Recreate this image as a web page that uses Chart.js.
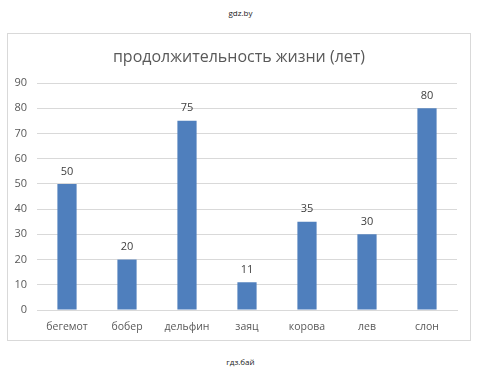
<!DOCTYPE html>
<html>
<head>
<meta charset="utf-8">
<script src="https://cdn.jsdelivr.net/npm/chart.js@4"></script>
<style>
  body { margin: 0; background: #fff; width: 481px; height: 378px; position: relative; font-family: "Open Sans", sans-serif; }
  .mark { position: absolute; left: 0; width: 481px; text-align: center; font-size: 8px; color: #222; }
  #box { position: absolute; left: 7px; top: 33px; width: 462px; height: 306px; border: 1px solid #d9d9d9; }
</style>
</head>
<body>
<div class="mark" style="top:7px">gdz.by</div>
<div id="box"><canvas id="chart" width="462" height="306"></canvas></div>
<div class="mark" style="top:356px">гдз.бай</div>
<script>
// данные диаграммы
const animals = ["бегемот", "бобер", "дельфин", "заяц", "корова", "лев", "слон"];
const years = [50, 20, 75, 11, 35, 30, 80];
const yTicks = [0, 10, 20, 30, 40, 50, 60, 70, 80, 90];

const titleText = "продолжительность жизни (лет)";

// подписи над столбиками и заголовок
const labelsPlugin = {
  id: "labels",
  afterDatasetsDraw(chart) {
    const ctx = chart.ctx;
    ctx.save();
    ctx.font = "11px 'Open Sans'";
    ctx.fillStyle = "#404040";
    ctx.textAlign = "center";
    ctx.textBaseline = "bottom";
    chart.getDatasetMeta(0).data.forEach(function (bar, i) {
      ctx.fillText(String(years[i]), bar.x, bar.y - 7);
    });
    ctx.font = "16px 'Open Sans'";
    ctx.fillStyle = "#595959";
    ctx.textBaseline = "middle";
    ctx.fillText(titleText, chart.width / 2, 23);
    ctx.restore();
  }
};

new Chart(document.getElementById("chart").getContext("2d"), {
  type: "bar",
  data: {
    labels: animals,
    datasets: [{
      data: years,
      backgroundColor: "#4f7fbd",
      categoryPercentage: 1,
      barPercentage: 0.32
    }]
  },
  options: {
    responsive: false,
    animation: false,
    layout: { padding: { top: 49, right: 13, left: 0, bottom: 0 } },
    plugins: {
      legend: { display: false },
      title: { display: false },
      tooltip: { enabled: false }
    },
    scales: {
      x: {
        grid: { display: false },
        border: { color: "#d9d9d9" },
        ticks: { color: "#595959", font: { family: "Open Sans", size: 10.5 }, padding: 3 },
        afterFit(scale) { scale.height = 30; }
      },
      y: {
        min: 0,
        max: 90,
        afterBuildTicks(scale) { scale.ticks = yTicks.map(v => ({ value: v })); },
        grid: { color: "#d9d9d9", drawTicks: false },
        border: { display: false },
        ticks: { color: "#595959", font: { family: "Open Sans", size: 11 }, padding: 10 },
        afterFit(scale) { scale.width = 29; }
      }
    }
  },
  plugins: [labelsPlugin]
});
</script>
</body>
</html>
